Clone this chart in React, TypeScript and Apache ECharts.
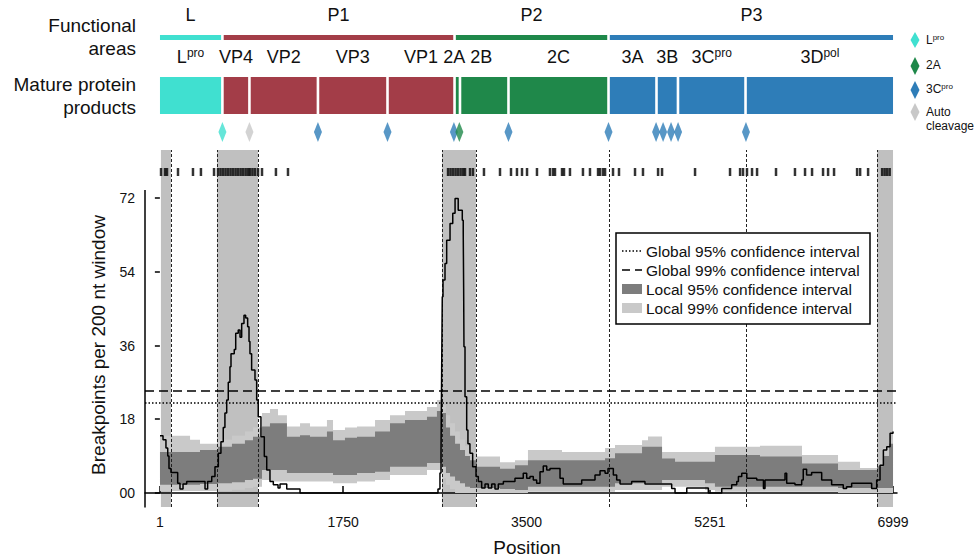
import React, { useEffect, useRef } from 'react';
import * as echarts from 'echarts';

const FONT = '"Liberation Sans", Arial, Helvetica, sans-serif';

// ---------- genome map ----------
const areaNames = ['L', 'P1', 'P2', 'P3'];
const areaStart = [1, 597, 2813, 4283];
const areaEnd = [597, 2813, 4283, 6999];
const areaColors = ['#40E0D0', '#A33D48', '#1F884A', '#2E7DB8'];

const proteinNames = ['L', 'VP4', 'VP2', 'VP3', 'VP1', '2A', '2B', '2C', '3A', '3B', '3C', '3D'];
const proteinSup = ['pro', '', '', '', '', '', '', '', '', '', 'pro', 'pol'];
const proteinStart = [1, 597, 855, 1509, 2173, 2813, 2865, 3328, 4283, 4741, 4946, 5591];
const proteinEnd = [597, 855, 1509, 2173, 2813, 2865, 3328, 4283, 4741, 4946, 5591, 6999];
const proteinArea = [0, 1, 1, 1, 1, 2, 2, 2, 3, 3, 3, 3];

const cleavagePos = [597, 855, 1509, 2173, 2807, 2859, 3328, 4283, 4737, 4804, 4880, 4947, 5595];
const cleavageType = ['Lpro', 'Auto', '3Cpro', '3Cpro', '3Cpro', '2A', '3Cpro', '3Cpro', '3Cpro', '3Cpro', '3Cpro', '3Cpro', '3Cpro'];
const cleavageColors: Record<string, string> = { Lpro: '#40E0D0', '2A': '#1F884A', '3Cpro': '#2E7DB8', Auto: '#C8C8C8' };

// ---------- breakpoint positions (tick row) ----------
const breakpointPos = [
  11, 49, 68, 173, 316, 392, 517,
  555, 579, 603, 627, 651, 675, 699, 723, 747, 771, 795, 819, 843, 860, 884, 908, 937, 975,
  1108, 1223,
  2751, 2775, 2799, 2823, 2847, 2871, 2895, 2913, 2961, 2989, 3094, 3247, 3352, 3409, 3457, 3505, 3600,
  3724, 3753, 3772, 3839, 3858, 3915, 4039, 4106, 4183, 4202, 4230, 4250, 4326, 4383, 4536, 4612,
  4756, 4794, 5109, 5443, 5539, 5567, 5605, 5653, 5701, 5882, 6063, 6159, 6226, 6331, 6379, 6436,
  6656, 6685, 6761, 6895, 6919, 6943, 6967,
];

// ---------- hot spots & thresholds ----------
const hotspotStart = [10, 545, 2693, 6846];
const hotspotEnd = [106, 937, 3018, 6999];
const dividerPos = [106, 545, 937, 2693, 3018, 4287, 5595, 6846];
const global95 = 22;
const global99 = 25;

// ---------- local confidence bands ----------
const bandX = [1, 288, 383, 555, 688, 812, 889, 975, 1051, 1128, 1213, 1338, 1433, 1595, 1653, 1767, 1882, 2054, 2197, 2340, 2550, 2645, 2693, 2731, 2770, 2818, 2865, 2913, 2961, 3027, 3247, 3390, 3514, 3839, 4250, 4345, 4603, 4660, 4794, 4918, 5204, 5299, 5729, 6130, 6474, 6684, 6846, 6904, 6961, 6999];
const lo99 = [0.5, 0.5, 0.5, 0.5, 0.8, 1.2, 1.5, 3.2, 2.8, 2.8, 2.8, 2.8, 2.8, 2.8, 2.4, 2.4, 2.8, 3.2, 4.4, 4.4, 5.6, 5.6, 3.6, 2, 1, 0, 0, 0, 0, 0, 0, 0, 0.3, 0.3, 0.3, 0.7, 0.7, 0.7, 1.5, 1.5, 0.7, 0.3, 0.3, 0.3, 0, 0, 0, 0, 0, 0];
const lo95 = [2, 2, 2.2, 2.4, 2.6, 3.2, 3.5, 5.6, 5.6, 5.6, 4.9, 4.9, 4.9, 4.9, 4.4, 4.4, 4.9, 5.2, 6.4, 6.4, 7.3, 7.3, 6.4, 4.9, 4, 3, 2.4, 1.5, 1.2, 1.2, 1, 0.7, 1.5, 1.5, 1.5, 2.4, 2.4, 2.4, 3.2, 3.2, 2.4, 1.5, 1.5, 1.5, 1.2, 1.2, 1.2, 1.2, 1.2, 1.2];
const hi95 = [10, 10, 10.5, 11.3, 12, 12.9, 13.7, 16.2, 17, 17, 13.7, 14.1, 13.7, 15, 12.9, 13.5, 13.7, 15, 17, 17.8, 18.6, 20, 19.5, 16, 14, 12, 10.5, 9, 8, 6.4, 5.9, 6.8, 8, 8, 8.5, 9.7, 11.3, 11.3, 8.4, 7.6, 7.6, 9.3, 8.9, 7.2, 5.6, 5.6, 6.5, 9, 12, 12];
const hi99 = [14, 13, 12, 13, 14, 15, 16, 19.5, 20.5, 19, 16.2, 17, 16.2, 17.8, 15.4, 16, 16.2, 17.8, 19, 20, 21, 22.7, 21.5, 19, 17, 15, 13, 11.5, 10, 8.9, 7.5, 8, 10.5, 10, 11, 11.7, 12.9, 13.8, 10, 10, 10, 11.3, 11.5, 9.3, 7.6, 6.1, 8, 11, 13, 13];

// ---------- breakpoints per 200 nt window ----------
const curveX = [1, 30, 58, 75, 87, 106, 170, 192, 221, 256, 431, 456, 495, 526, 558, 583, 605, 621, 638, 653, 669, 679, 710, 724, 748, 765, 781, 803, 819, 838, 851, 860, 876, 908, 924, 939, 965, 997, 1020, 1051, 1083, 1128, 1147, 1211, 1338, 2655, 2674, 2684, 2690, 2696, 2703, 2722, 2738, 2770, 2796, 2818, 2848, 2887, 2896, 2900, 2903, 2913, 2929, 2941, 2960, 2986, 3018, 3040, 3072, 3104, 3135, 3168, 3199, 3231, 3279, 3390, 3469, 3502, 3533, 3565, 3597, 3629, 3660, 3693, 3724, 3820, 3851, 4027, 4154, 4202, 4250, 4278, 4329, 4361, 4393, 4504, 4631, 4886, 4918, 5030, 5236, 5364, 5459, 5507, 5523, 5555, 5603, 5698, 5762, 5777, 5968, 5984, 6063, 6127, 6142, 6174, 6222, 6318, 6413, 6524, 6556, 6604, 6795, 6843, 6875, 6907, 6939, 6971, 6999];
const curveY = [14, 13, 11, 9, 6, 5, 2.4, 1, 2.2, 2.8, 1, 2.8, 4, 6.4, 9.7, 12.5, 16, 19.5, 22.7, 27, 30.8, 34, 35, 39, 39.8, 38, 41.4, 43.4, 42.7, 40.6, 37, 34, 30, 27.6, 22.7, 18.6, 13.7, 8.9, 5.6, 2.8, 2, 1.2, 2.2, 1, 0, 1, 4.9, 10, 30, 47.9, 52, 56, 61.7, 65.8, 68.3, 71.9, 69, 66.6, 63.7, 50, 35.7, 23.5, 15.4, 12, 9.7, 6.4, 4, 2.8, 1.2, 2.2, 1.2, 2.2, 1, 2.2, 2.8, 3.6, 4.8, 3.6, 4, 3.2, 2.4, 5.2, 6.6, 5.6, 6, 3.6, 2.2, 3.2, 4.4, 5.4, 4.8, 6, 4.4, 3.2, 2.2, 2.8, 2.2, 1.1, 0, 1.2, 0, 1.1, 2, 2.8, 4, 4.8, 3.6, 3.2, 1.1, 3.2, 4.8, 2.4, 2, 3.2, 5.8, 4.4, 5, 3.2, 2, 1.1, 1.5, 2.4, 1.1, 3.2, 6.8, 10.5, 11.3, 14.6, 15];

// ---------- axes ----------
const xTickValues = [1, 1750, 3500, 5251, 6999];
const yTickValues = [0, 18, 36, 54, 72];

const X_MIN = -142;
const X_MAX = 7037;
const Y_MIN = -3.42;
const Y_MAX = 83.72;
const TICK_ROW_Y = 78.35;
const DIAMOND_Y = 132;

const bandLows = [lo99, lo95];
const bandHighs = [hi99, hi95];
const bandColors = ['#c9c9c9', '#7d7d7d'];

function supText(main: string, sup: string) {
  return sup ? `{m|${main}}{s|${sup}}` : `{m|${main}}`;
}

function buildOption(): any {
  const topData = [
    ...areaStart.map((s, i) => [s, areaEnd[i], 0, i]),
    ...proteinStart.map((s, i) => [s, proteinEnd[i], 1, i]),
  ];

  const richTop = (size: number, supSize: number) => ({
    m: { fontSize: size, fontFamily: FONT, fill: '#111', lineHeight: size + 2 },
    s: { fontSize: supSize, fontFamily: FONT, fill: '#111', verticalAlign: 'top', lineHeight: supSize },
  });

  const textBase = { fontFamily: FONT, fill: '#111' };

  const graphic: any[] = [
    { type: 'line', z: 50, shape: { x1: 145, y1: 190, x2: 145, y2: 507.5 }, style: { stroke: '#000', lineWidth: 1.5 } },
    { type: 'text', z: 50, x: 136, y: 36.5, style: { ...textBase, text: 'Functional\nareas', fontSize: 19, lineHeight: 23, align: 'right', verticalAlign: 'middle' } },
    { type: 'text', z: 50, x: 136, y: 95.5, style: { ...textBase, text: 'Mature protein\nproducts', fontSize: 19, lineHeight: 23, align: 'right', verticalAlign: 'middle' } },
    { type: 'text', z: 50, x: 98, y: 345, rotation: Math.PI / 2, style: { ...textBase, text: 'Breakpoints per 200 nt window', fontSize: 19, align: 'center', verticalAlign: 'middle' } },
    { type: 'text', z: 50, x: 527, y: 547, style: { ...textBase, text: 'Position', fontSize: 19, align: 'center', verticalAlign: 'middle' } },
    { type: 'polygon', z: 50, shape: { points: [[915, 32], [919.5, 40], [915, 48], [910.5, 40]] }, style: { fill: cleavageColors.Lpro } },
    { type: 'polygon', z: 50, shape: { points: [[915, 57], [919.5, 66], [915, 75], [910.5, 66]] }, style: { fill: cleavageColors['2A'] } },
    { type: 'polygon', z: 50, shape: { points: [[915, 81], [919.5, 90], [915, 99], [910.5, 90]] }, style: { fill: cleavageColors['3Cpro'] } },
    { type: 'polygon', z: 50, shape: { points: [[915, 103], [919.5, 112], [915, 121], [910.5, 112]] }, style: { fill: cleavageColors.Auto } },
    { type: 'text', z: 50, x: 926, y: 40, style: { text: supText('L', 'pro'), rich: richTop(12, 8), align: 'left', verticalAlign: 'middle' } },
    { type: 'text', z: 50, x: 926, y: 65, style: { ...textBase, text: '2A', fontSize: 12, align: 'left', verticalAlign: 'middle' } },
    { type: 'text', z: 50, x: 926, y: 89, style: { text: supText('3C', 'pro'), rich: richTop(12, 8), align: 'left', verticalAlign: 'middle' } },
    { type: 'text', z: 50, x: 926, y: 119, style: { ...textBase, text: 'Auto\ncleavage', fontSize: 12, lineHeight: 14, align: 'left', verticalAlign: 'middle' } },
    { type: 'rect', z: 60, shape: { x: 616, y: 233, width: 254, height: 91 }, style: { fill: '#fff', stroke: '#000', lineWidth: 1.5 } },
    { type: 'line', z: 61, shape: { x1: 622, y1: 251, x2: 642, y2: 251 }, style: { stroke: '#000', lineWidth: 1.5, lineDash: [1.5, 2] } },
    { type: 'line', z: 61, shape: { x1: 622, y1: 270, x2: 642, y2: 270 }, style: { stroke: '#000', lineWidth: 1.5, lineDash: [8, 5] } },
    { type: 'rect', z: 61, shape: { x: 622, y: 284, width: 20, height: 10 }, style: { fill: '#7d7d7d' } },
    { type: 'rect', z: 61, shape: { x: 622, y: 303, width: 20, height: 10 }, style: { fill: '#c9c9c9' } },
    { type: 'text', z: 61, x: 646, y: 251, style: { ...textBase, text: 'Global 95% confidence interval', fontSize: 15.5, verticalAlign: 'middle' } },
    { type: 'text', z: 61, x: 646, y: 270, style: { ...textBase, text: 'Global 99% confidence interval', fontSize: 15.5, verticalAlign: 'middle' } },
    { type: 'text', z: 61, x: 646, y: 289, style: { ...textBase, text: 'Local 95% confidence interval', fontSize: 15.5, verticalAlign: 'middle' } },
    { type: 'text', z: 61, x: 646, y: 308, style: { ...textBase, text: 'Local 99% confidence interval', fontSize: 15.5, verticalAlign: 'middle' } },
  ];

  return {
    animation: false,
    backgroundColor: '#fff',
    textStyle: { fontFamily: FONT },
    grid: [
      { left: 145, right: 80, top: 150, bottom: 50, outerBoundsMode: 'none', containLabel: false },
      { left: 145, right: 80, top: 0, height: 150, outerBoundsMode: 'none', containLabel: false },
    ],
    xAxis: [
      {
        type: 'value', gridIndex: 0, min: X_MIN, max: X_MAX,
        axisLine: { show: true, lineStyle: { color: '#000', width: 1.5 } },
        axisTick: { show: true, inside: true, length: 7, customValues: xTickValues, lineStyle: { color: '#000', width: 1.5 } },
        axisLabel: { show: true, customValues: xTickValues, formatter: (v: number) => String(v), color: '#111', fontSize: 14, fontFamily: FONT, margin: 8 },
        splitLine: { show: false },
      },
      { type: 'value', gridIndex: 1, min: X_MIN, max: X_MAX, show: false },
    ],
    yAxis: [
      {
        type: 'value', gridIndex: 0, min: Y_MIN, max: Y_MAX,
        axisLine: { show: false },
        axisTick: { show: true, inside: false, length: 5, customValues: yTickValues, lineStyle: { color: '#000', width: 1.5 } },
        axisLabel: { show: true, customValues: yTickValues, formatter: (v: number) => (v === 0 ? '00' : String(v)), color: '#111', fontSize: 14, fontFamily: FONT, margin: 10 },
        splitLine: { show: false },
      },
      { type: 'value', gridIndex: 1, min: 0, max: 150, inverse: true, show: false },
    ],
    graphic,
    series: [
      {
        type: 'custom', name: 'hot spots', xAxisIndex: 0, yAxisIndex: 0, z: 0, silent: true,
        data: hotspotStart.map((s, i) => [s, hotspotEnd[i]]),
        renderItem: (params: any, api: any) => {
          const cs = params.coordSys;
          const a = api.coord([api.value(0), 0])[0];
          const b = api.coord([api.value(1), 0])[0];
          return { type: 'rect', shape: { x: a, y: cs.y, width: b - a, height: cs.height }, style: { fill: '#c0c0c0' } };
        },
      },
      {
        type: 'custom', name: 'local confidence bands', xAxisIndex: 0, yAxisIndex: 0, z: 1, silent: true,
        data: [[bandX[0], 0], [bandX[0], 1]],
        renderItem: (params: any, api: any) => {
          const which = api.value(1);
          const lo = bandLows[which];
          const hi = bandHighs[which];
          const up: number[][] = [];
          const down: number[][] = [];
          for (let i = 0; i < bandX.length; i++) {
            const xa = bandX[i];
            const xb = i + 1 < bandX.length ? bandX[i + 1] : bandX[i];
            up.push(api.coord([xa, hi[i]]), api.coord([xb, hi[i]]));
            down.push(api.coord([xa, lo[i]]), api.coord([xb, lo[i]]));
          }
          const points = up.concat(down.reverse());
          return { type: 'polygon', shape: { points }, style: { fill: bandColors[which] } };
        },
      },
      {
        type: 'scatter', name: 'breakpoints', xAxisIndex: 0, yAxisIndex: 0, z: 3,
        data: breakpointPos.map((p) => [p, TICK_ROW_Y]),
        symbol: 'rect', symbolSize: [2.5, 8], itemStyle: { color: '#000' }, silent: true,
        markLine: {
          silent: true, symbol: ['none', 'none'], label: { show: false },
          lineStyle: { color: '#222', width: 1, type: [3, 2] },
          data: [
            ...dividerPos.map((x) => ({ xAxis: x })),
            { yAxis: global95, lineStyle: { color: '#000', width: 1.5, type: [1.5, 2] } },
            { yAxis: global99, lineStyle: { color: '#000', width: 1.5, type: [9, 5] } },
          ],
        },
      },
      {
        type: 'line', name: 'breakpoints per window', xAxisIndex: 0, yAxisIndex: 0, z: 5, step: 'end',
        data: curveX.map((x, i) => [x, curveY[i]]), symbol: 'none',
        lineStyle: { color: '#000', width: 1.5 }, silent: true,
      },
      {
        type: 'custom', name: 'genome map', xAxisIndex: 1, yAxisIndex: 1, z: 4,
        data: topData, silent: true,
        renderItem: (params: any, api: any) => {
          const s = api.value(0);
          const e = api.value(1);
          const kind = api.value(2);
          const idx = api.value(3);
          const gap = 1.3;
          const a = api.coord([s, 0])[0];
          const b = api.coord([e, 0])[0];
          const x0 = s <= 1 ? a : a + gap;
          const x1 = e >= 6999 ? b : b - gap;
          const color = kind === 0 ? areaColors[idx] : areaColors[proteinArea[idx]];
          const yTop = kind === 0 ? api.coord([s, 35])[1] : api.coord([s, 77])[1];
          const yBot = kind === 0 ? api.coord([s, 40])[1] : api.coord([s, 114])[1];
          const labelY = kind === 0 ? api.coord([s, 15])[1] : api.coord([s, 57])[1];
          let cx = (x0 + x1) / 2;
          let text = '';
          if (kind === 0) {
            text = `{m|${areaNames[idx]}}`;
          } else {
            text = supText(proteinNames[idx], proteinSup[idx]);
            if (proteinNames[idx] === '2A') cx -= 3;
            if (proteinNames[idx] === '2B') cx -= 3;
          }
          return {
            type: 'group',
            children: [
              { type: 'rect', shape: { x: x0, y: yTop, width: Math.max(0, x1 - x0), height: yBot - yTop }, style: { fill: color } },
              {
                type: 'text', x: cx, y: labelY,
                style: { text, rich: richTop(18, 12), align: 'center', verticalAlign: 'middle' },
              },
            ],
          };
        },
      },
      {
        type: 'scatter', name: 'cleavage sites', xAxisIndex: 1, yAxisIndex: 1, z: 4,
        data: cleavagePos.map((p, i) => ({ value: [p, DIAMOND_Y], itemStyle: { color: cleavageColors[cleavageType[i]] } })),
        symbol: 'diamond', symbolSize: [8, 20], silent: true,
      },
    ],
  };
}

export default function App() {
  const ref = useRef<HTMLDivElement>(null);
  useEffect(() => {
    if (!ref.current) return;
    const chart = echarts.init(ref.current, null, { renderer: 'svg' });
    chart.setOption(buildOption());
    return () => chart.dispose();
  }, []);
  return (
    <div
      ref={ref}
      style={{ position: 'fixed', left: 0, top: 0, width: 977, height: 557, background: '#fff' }}
    />
  );
}
